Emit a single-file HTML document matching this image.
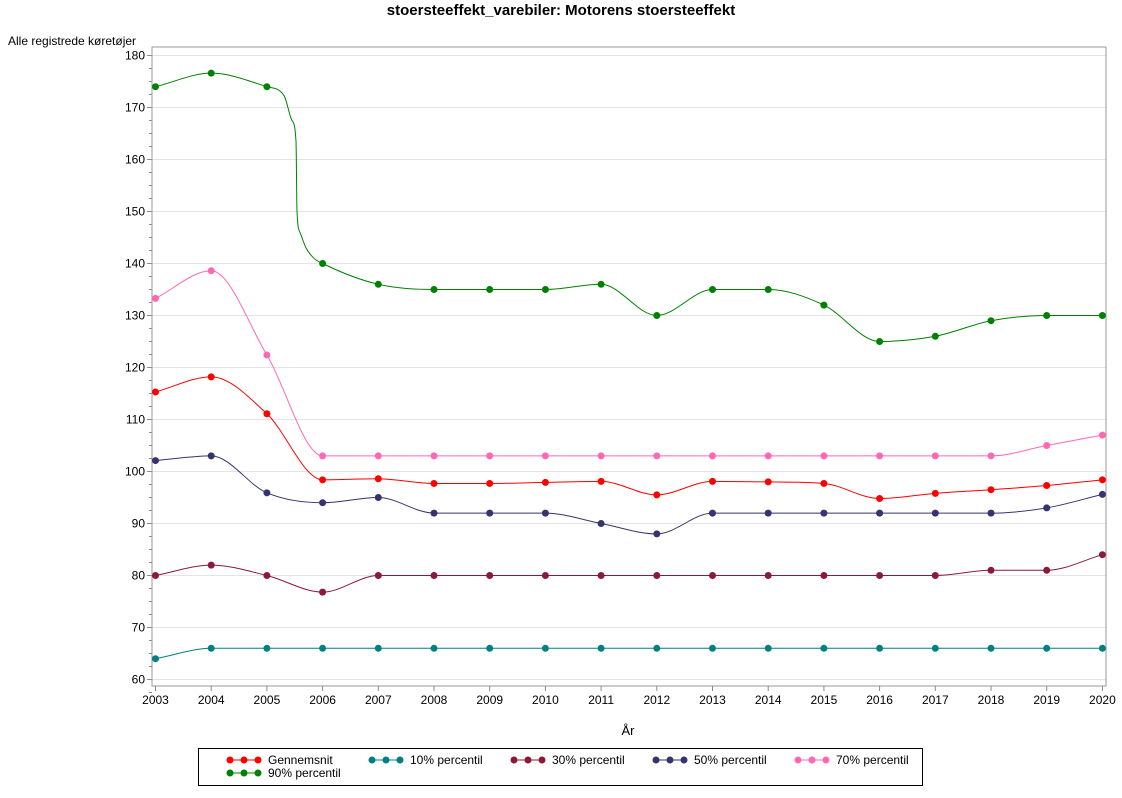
<!DOCTYPE html>
<html><head><meta charset="utf-8"><style>
body{margin:0;background:#fff;font-family:"Liberation Sans",Arial,sans-serif}
</style></head><body>
<svg id="s" width="1122" height="793" xmlns="http://www.w3.org/2000/svg" font-family="Liberation Sans, Arial, sans-serif">
<text x="561" y="15" text-anchor="middle" font-size="15" font-weight="bold">stoersteeffekt_varebiler: Motorens stoersteeffekt</text>
<text x="8" y="45" font-size="12">Alle registrede køretøjer</text>
<text x="628" y="735" text-anchor="middle" font-size="13">År</text>
<rect x="198.5" y="748.5" width="724" height="37" fill="none" stroke="#000"/>
</svg>
<script>
const s=document.getElementById('s');const NS='http://www.w3.org/2000/svg';
function el(t,a,txt){const e=document.createElementNS(NS,t);for(const k in a)e.setAttribute(k,a[k]);if(txt!=null)e.textContent=txt;s.appendChild(e);return e;}
const L=152,R=1106,T=47,B=686;
const X=y=>155.5+(y-2003)*55.7, Y=v=>55.5+(180-v)*5.2;
for(let v=60;v<=180;v+=10){el('line',{x1:L,x2:R,y1:Y(v),y2:Y(v),stroke:'#e4e4e4'});el('text',{x:L-7,y:Y(v)+4,'text-anchor':'end','font-size':12},v);el('line',{x1:L-5,x2:L,y1:Y(v),y2:Y(v),stroke:'#888'});}
for(let v=57.5;v<=180;v+=2.5){if(v%10)el('line',{x1:L-3,x2:L,y1:Y(v),y2:Y(v),stroke:'#888'});}
el('rect',{x:L,y:T,width:R-L,height:B-T,fill:'none',stroke:'#999'});
for(let y=2003;y<=2020;y++){el('line',{x1:X(y),x2:X(y),y1:B,y2:B+5,stroke:'#888'});el('text',{x:X(y),y:B+18,'text-anchor':'middle','font-size':12},y);}
const D=[
['Gennemsnit','#ff0000',[115.3,118.2,111.1,98.4,98.6,97.7,97.7,97.9,98.1,95.5,98.1,98.0,97.7,94.8,95.8,96.5,97.3,98.4]],
['10% percentil','#008080',[64,66,66,66,66,66,66,66,66,66,66,66,66,66,66,66,66,66]],
['30% percentil','#8b1a3a',[80,82,80,76.8,80,80,80,80,80,80,80,80,80,80,80,81,81,84]],
['50% percentil','#36346e',[102.1,103,95.9,94,95,92,92,92,90,88,92,92,92,92,92,92,93,95.6]],
['70% percentil','#ff69b4',[133.3,138.6,122.4,103,103,103,103,103,103,103,103,103,103,103,103,103,105,107]],
['90% percentil','#008000',[174,176.6,174,140,136,135,135,135,136,130,135,135,132,125,126,129,130,130]]];
function mono(p){const n=p.length,dx=[],m=[],t=[];for(let i=0;i<n-1;i++){dx[i]=p[i+1][0]-p[i][0];m[i]=(p[i+1][1]-p[i][1])/dx[i];}
t[0]=m[0];t[n-1]=m[n-2];for(let i=1;i<n-1;i++){t[i]=(m[i-1]*m[i]<=0)?0:(m[i-1]+m[i])/2;}
for(let i=0;i<n-1;i++){if(m[i]==0){t[i]=0;t[i+1]=0;continue;}const a=t[i]/m[i],b=t[i+1]/m[i],h=a*a+b*b;if(h>9){const k=3/Math.sqrt(h);t[i]=k*a*m[i];t[i+1]=k*b*m[i];}}
let d='M'+p[0];for(let i=0;i<n-1;i++){const h=dx[i]/3;d+=' C'+[p[i][0]+h,p[i][1]+t[i]*h]+' '+[p[i+1][0]-h,p[i+1][1]-t[i+1]*h]+' '+p[i+1];}return d;}
D.forEach(([n,c,v],k)=>{let p=v.map((a,i)=>[X(2003+i),Y(a)]);
if(k==5){p=[p[0],p[1],p[2],[284,Y(172.3)],[292,Y(167.5)],[296,Y(163.5)],[297,Y(150)],[300,Y(146)],[306,Y(143)],[314,Y(141)],...p.slice(3)];}
el('path',{d:mono(p),fill:'none',stroke:c,'stroke-width':1});v.forEach((a,i)=>el('circle',{cx:X(2003+i),cy:Y(a),r:3.5,fill:c}));});
const pos=[[230,760],[372,760],[514,760],[656,760],[798,760],[230,773]];
D.forEach(([n,c],i)=>{const [x,y]=pos[i];el('line',{x1:x,x2:x+28,y1:y,y2:y,stroke:c});[0,14,28].forEach(o=>el('circle',{cx:x+o,cy:y,r:3.5,fill:c}));el('text',{x:x+38,y:y+4,'font-size':12},n);});
</script>
</body></html>
